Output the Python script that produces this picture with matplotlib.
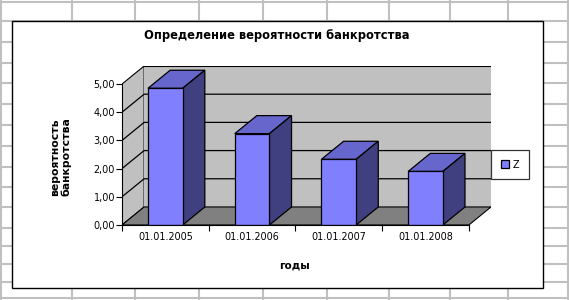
import matplotlib

matplotlib.use("Agg")
import matplotlib.pyplot as plt
from matplotlib.patches import Polygon, Rectangle
from matplotlib.ticker import FuncFormatter

# chart data
categories = ["01.01.2005", "01.01.2006", "01.01.2007", "01.01.2008"]
values = [4.85, 3.24, 2.33, 1.90]
series_name = "Z"
y_ticks = [0, 1, 2, 3, 4, 5]

W, H = 569, 300
FRONT = "#8080ff"
TOP = "#6666cc"
SIDE = "#404080"
WALL = "#c0c0c0"
FLOOR = "#808080"

fig = plt.figure(figsize=(W / 100, H / 100), dpi=100)
fig.patch.set_facecolor("white")

# spreadsheet background
bg = fig.add_axes([0, 0, 1, 1])
bg.set_xlim(0, W)
bg.set_ylim(H, 0)
bg.axis("off")
for gx in [1, 72, 135, 199, 263, 327, 389, 450, 508, 568]:
    bg.axvline(gx, color="#c0c0c0", lw=1.5, zorder=1)
for gy in [2, 21, 42, 63, 83, 104, 125, 146, 167, 187, 207, 228, 246, 264, 282, 298]:
    bg.axhline(gy, color="#c0c0c0", lw=1.5, zorder=1)
bg.add_patch(Rectangle((12, 21), 531, 267, facecolor="white", edgecolor="black", lw=1.0, zorder=3))

# plot area (front axis origin at px 122,225)
n = len(categories)
dx, dy = 0.255, 0.64
ymax = max(y_ticks)
left, right, bottom, top = 122, 491, 225, 66
ax = fig.add_axes([left / W, 1 - bottom / H, (right - left) / W, (bottom - top) / H])
ax.set_xlim(0, n + dx)
ax.set_ylim(0, ymax + dy)
ax.patch.set_visible(False)

# walls and floor
ax.add_patch(Polygon([(0, 0), (dx, dy), (dx, ymax + dy), (0, ymax)], closed=True,
                     facecolor=WALL, edgecolor="black", lw=0.8, zorder=1))
ax.add_patch(Polygon([(dx, dy), (n + dx, dy), (n + dx, ymax + dy), (dx, ymax + dy)], closed=True,
                     facecolor=WALL, edgecolor="none", zorder=1))
ax.plot([dx, n + dx], [ymax + dy, ymax + dy], color="black", lw=0.8, zorder=2)
ax.add_patch(Polygon([(0, 0), (n, 0), (n + dx, dy), (dx, dy)], closed=True,
                     facecolor=FLOOR, edgecolor="black", lw=0.8, zorder=2))
for v in y_ticks[1:-1]:
    ax.plot([0, dx, n + dx], [v, v + dy, v + dy], color="black", lw=0.9, zorder=2)

# 3D bars
xs = [i + 0.5 for i in range(n)]
w = 0.4
bars = ax.bar(xs, values, width=w, color=FRONT, edgecolor="black", lw=0.9,
              label=series_name, zorder=5)
for x, v in zip(xs, values):
    x0, x1 = x - w / 2, x + w / 2
    ax.add_patch(Polygon([(x0, v), (x1, v), (x1 + dx, v + dy), (x0 + dx, v + dy)], closed=True,
                         facecolor=TOP, edgecolor="black", lw=0.9, zorder=4))
    ax.add_patch(Polygon([(x1, 0), (x1 + dx, dy), (x1 + dx, v + dy), (x1, v)], closed=True,
                         facecolor=SIDE, edgecolor="black", lw=0.9, zorder=4))

# axes
for s in ["top", "right"]:
    ax.spines[s].set_visible(False)
ax.spines["left"].set_bounds(0, ymax)
ax.spines["bottom"].set_bounds(0, n)
ax.spines["left"].set_zorder(6)
ax.spines["bottom"].set_zorder(6)
ax.set_yticks(y_ticks)
ax.yaxis.set_major_formatter(FuncFormatter(lambda v, p: f"{v:.2f}".replace(".", ",")))
ax.set_xticks(range(n + 1))
ax.set_xticklabels([])
ax.set_xticks(xs, minor=True)
ax.set_xticklabels(categories, minor=True)
ax.tick_params(axis="x", which="major", direction="out", length=4, width=0.8)
ax.tick_params(axis="x", which="minor", length=0, labelsize=6.9, pad=5)
ax.tick_params(axis="y", direction="out", length=4, width=0.8, labelsize=6.9, pad=1)

ax.set_ylabel("вероятность\nбанкротства", fontsize=7.8, fontweight="bold", linespacing=1.05)
ax.yaxis.set_label_coords((71 - left) / (right - left), (bottom - 157) / (bottom - top))
ax.set_xlabel("годы", fontsize=7.5, fontweight="bold")
ax.xaxis.set_label_coords((294 - left) / (right - left), (bottom - 260) / (bottom - top))

fig.text(277 / W, 1 - 36 / H, "Определение вероятности банкротства",
         ha="center", va="center", fontsize=8.3, fontweight="bold")

leg = ax.legend(handles=[bars], loc="center left", frameon=True, fancybox=False,
                bbox_to_anchor=(491 / W, 1 - 164.5 / H), bbox_transform=fig.transFigure,
                fontsize=7, handlelength=0.8, handleheight=0.8, handletextpad=0.4,
                borderpad=1.0, borderaxespad=0)
leg.get_frame().set_edgecolor("black")
leg.get_frame().set_linewidth(0.9)

fig.savefig("out.png", dpi=100)
